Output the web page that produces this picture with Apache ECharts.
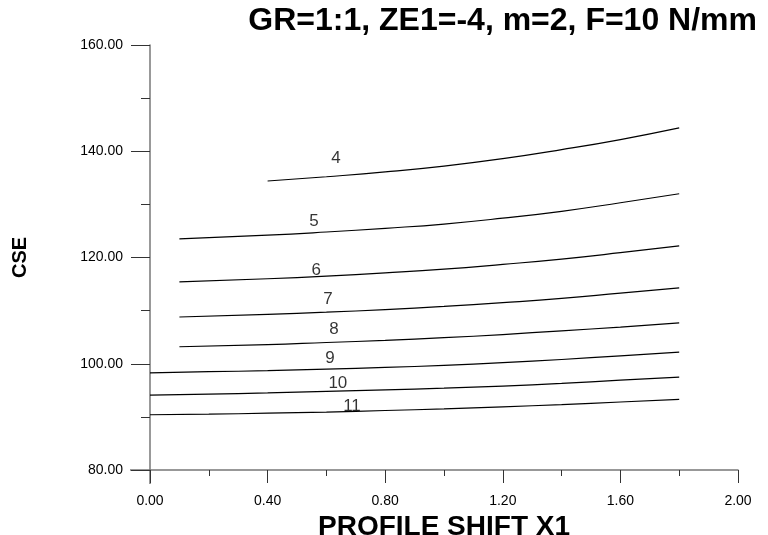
<!DOCTYPE html>
<html>
<head>
<meta charset="utf-8">
<script src="https://cdn.jsdelivr.net/npm/echarts@6/dist/echarts.min.js"></script>
<style>
  html, body { margin: 0; padding: 0; background: #fff; }
  #chart { width: 768px; height: 535px; }
</style>
</head>
<body>
<div id="chart"></div>
<script>
// x positions of the curve points (profile shift X1)
var xFrom04 = [0.4, 0.6, 0.8, 1.0, 1.2, 1.4, 1.6, 1.8];
var xFrom01 = [0.1, 0.4, 0.6, 0.8, 1.0, 1.2, 1.4, 1.6, 1.8];
var xFrom00 = [0.0, 0.2, 0.4, 0.6, 0.8, 1.0, 1.2, 1.4, 1.6, 1.8];

// CSE values, one list per curve
var cse4  = [134.4, 135.2, 136.1, 137.2, 138.6, 140.3, 142.2, 144.4];
var cse5  = [123.5, 124.2, 124.8, 125.5, 126.3, 127.4, 128.7, 130.3, 132.0];
var cse6  = [115.4, 116.0, 116.5, 117.1, 117.8, 118.7, 119.7, 120.9, 122.2];
var cse7  = [108.8, 109.3, 109.7, 110.2, 110.8, 111.5, 112.3, 113.3, 114.3];
var cse8  = [103.2, 103.6, 104.0, 104.4, 104.9, 105.5, 106.2, 106.9, 107.7];
var cse9  = [98.3, 98.5, 98.7, 99.0, 99.3, 99.7, 100.2, 100.8, 101.5, 102.2];
var cse10 = [94.1, 94.3, 94.5, 94.8, 95.1, 95.4, 95.8, 96.3, 96.9, 97.5];
var cse11 = [90.4, 90.5, 90.7, 90.9, 91.2, 91.5, 91.9, 92.3, 92.8, 93.3];

// curve labels and where they sit (data units)
var curveNames = ['4', '5', '6', '7', '8', '9', '10', '11'];
var labelX = [0.633, 0.558, 0.565, 0.605, 0.626, 0.612, 0.639, 0.687];
var labelY = [138.7, 126.9, 117.6, 112.2, 106.4, 101.1, 96.4, 91.9];

var curves = [
    [xFrom04, cse4], [xFrom01, cse5], [xFrom01, cse6], [xFrom01, cse7],
    [xFrom01, cse8], [xFrom00, cse9], [xFrom00, cse10], [xFrom00, cse11]
];

var font = 'Liberation Sans, Arial, sans-serif';

var series = curves.map(function (c, i) {
    return {
        name: curveNames[i],
        type: 'line',
        smooth: true,
        showSymbol: false,
        silent: true,
        lineStyle: { color: '#000', width: 1.2 },
        data: c[0].map(function (x, j) { return [x, c[1][j]]; })
    };
});

series.push({
    type: 'scatter',
    symbolSize: 0,
    silent: true,
    label: {
        show: true,
        position: 'inside',
        formatter: function (p) { return p.value[2]; },
        color: '#000',
        fontFamily: font,
        fontSize: 17
    },
    data: labelX.map(function (x, i) { return [x, labelY[i], curveNames[i]]; })
});

var myChart = echarts.init(document.getElementById('chart'));

var option = {
    backgroundColor: '#fff',
    animation: false,
    title: {
        text: 'GR=1:1, ZE1=-4, m=2, F=10 N/mm',
        right: 6,
        top: 0,
        textStyle: { fontFamily: font, fontWeight: 'bold', fontSize: 32, color: '#000' }
    },
    grid: { left: 150, right: 30, top: 45, bottom: 65, outerBoundsMode: 'none' },
    xAxis: {
        type: 'value',
        min: 0,
        max: 2,
        interval: 0.4,
        name: 'PROFILE SHIFT X1',
        nameLocation: 'middle',
        nameGap: 31,
        nameTextStyle: { fontFamily: font, fontWeight: 'bold', fontSize: 28, color: '#000' },
        axisLine: { show: true, lineStyle: { color: '#777', width: 1.5 } },
        axisTick: { show: true, inside: false, length: 13, lineStyle: { color: '#333' } },
        minorTick: { show: true, splitNumber: 2, length: 6, lineStyle: { color: '#333' } },
        axisLabel: {
            margin: 24,
            fontFamily: font,
            fontSize: 14,
            color: '#000',
            formatter: function (v) { return v.toFixed(2); }
        },
        splitLine: { show: false }
    },
    yAxis: {
        type: 'value',
        min: 80,
        max: 160,
        interval: 20,
        name: 'CSE',
        nameLocation: 'middle',
        nameRotate: 90,
        nameGap: 120,
        nameTextStyle: { fontFamily: font, fontWeight: 'bold', fontSize: 20, color: '#000' },
        axisLine: { show: true, lineStyle: { color: '#777', width: 1.5 } },
        axisTick: { show: true, inside: false, length: 19, lineStyle: { color: '#333' } },
        minorTick: { show: true, splitNumber: 2, length: 9, lineStyle: { color: '#333' } },
        axisLabel: {
            margin: 27,
            fontFamily: font,
            fontSize: 14,
            color: '#000',
            formatter: function (v) { return v.toFixed(2); }
        },
        splitLine: { show: false }
    },
    series: series
};

myChart.setOption(option);

// the axis lines run a little past the corner in the original
var corner = myChart.convertToPixel({ gridIndex: 0 }, [0, 80]);
myChart.setOption({
    graphic: [
        { type: 'line', silent: true, shape: { x1: corner[0] - 20, y1: corner[1], x2: corner[0], y2: corner[1] },
          style: { stroke: '#777', lineWidth: 1.5 } },
        { type: 'line', silent: true, shape: { x1: corner[0], y1: corner[1], x2: corner[0], y2: corner[1] + 14 },
          style: { stroke: '#777', lineWidth: 1.5 } }
    ]
});
</script>
</body>
</html>
